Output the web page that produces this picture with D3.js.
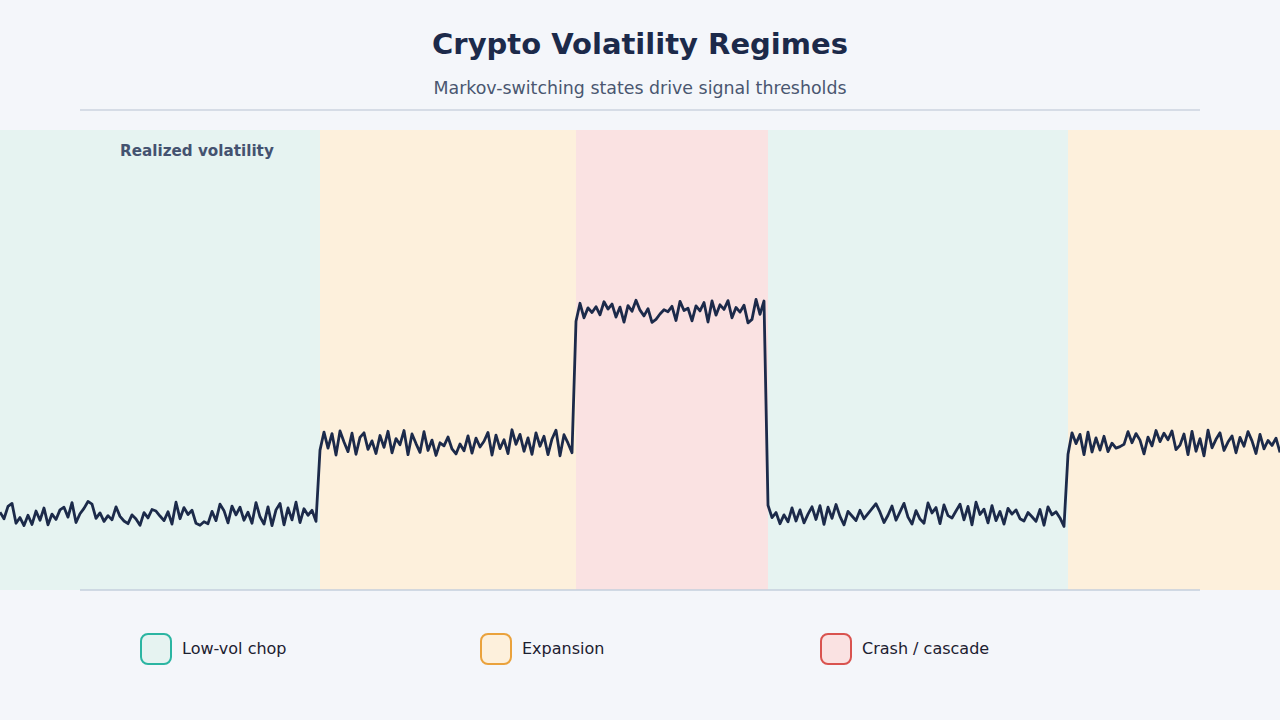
<!DOCTYPE html>
<html>
<head>
<meta charset="utf-8">
<script src="https://cdn.jsdelivr.net/npm/d3@7"></script>
<style>
  body { margin: 0; background: #f4f6fa; }
  svg { display: block; font-family: "DejaVu Sans", sans-serif; }
</style>
</head>
<body>
<svg width="1280" height="720"></svg>
<script>
// regime names and colours
var regimeNames = ["Low-vol chop", "Expansion", "Crash / cascade"];
var regimeFill = ["#e6f3f1", "#fdf0dc", "#fae2e2"];
var regimeStroke = ["#2bb5a2", "#eaa23c", "#d9534f"];

// each run of the series, in order: [regime, start index, end index]
var regimeRuns = [[0, 0, 80], [1, 80, 144], [2, 144, 192], [0, 192, 267], [1, 267, 320]];

// realized volatility readings (%), one per step
var lowRun1 = [
  20.3, 18.6, 21.8, 22.6, 17.4, 18.9, 16.8, 19.5, 17.1, 20.6,
  18.2, 21.4, 17.0, 19.8, 18.4, 20.9, 21.6, 19.0, 22.8, 17.6,
  19.9, 21.3, 23.1, 22.4, 18.7, 20.1, 17.9, 19.4, 18.3, 21.7,
  19.2, 18.0, 17.3, 19.6, 18.5, 16.9, 20.2, 18.8, 21.0, 20.6,
  19.3, 18.1, 20.4, 17.2, 22.9, 18.6, 21.5, 19.7, 20.8, 17.4,
  16.9, 17.8, 17.3, 20.5, 18.1, 22.4, 20.7, 17.5, 21.9, 19.6,
  21.6, 18.2, 20.3, 17.4, 22.8, 19.1, 17.2, 21.7, 16.8, 20.9,
  22.6, 17.0, 21.4, 18.3, 22.9, 17.6, 21.2, 19.5, 20.8, 17.9
];
var expRun1 = [
  36.5, 41.2, 37.0, 40.8, 35.2, 41.5, 38.6, 36.1, 40.9, 35.4,
  39.8, 41.0, 36.7, 38.9, 35.6, 40.3, 37.2, 41.4, 35.8, 39.5,
  37.9, 41.6, 35.3, 40.7, 38.2, 35.9, 41.3, 36.4, 39.1, 35.1,
  38.4, 37.6, 39.9, 36.8, 35.5, 38.1, 36.3, 40.2, 35.7, 39.6,
  37.3, 38.8, 41.1, 35.2, 40.4, 36.9, 39.2, 35.6, 41.8, 38.0,
  40.6, 36.2, 39.7, 35.4, 41.0, 37.5, 40.1, 35.3, 39.4, 41.7,
  35.0, 40.5, 38.3, 35.8
];
var crashRun = [
  70.1, 74.8, 71.0, 73.6, 72.4, 73.9, 71.8, 75.2, 73.3, 74.6,
  71.2, 73.8, 69.9, 74.2, 72.7, 75.6, 73.0, 71.5, 73.4, 69.8,
  70.6, 72.0, 73.1, 72.6, 74.0, 70.3, 75.3, 72.9, 73.5, 70.2,
  74.1, 72.8, 75.0, 69.9, 75.4, 71.7, 74.4, 73.2, 75.5, 71.0,
  73.7, 72.5, 74.3, 69.7, 70.6, 75.8, 71.9, 75.4
];
var lowRun2 = [
  22.1, 18.9, 20.2, 17.3, 19.6, 17.8, 21.4, 18.0, 20.9, 17.5,
  19.8, 21.7, 18.4, 22.0, 17.1, 21.6, 18.7, 22.3, 19.2, 17.0,
  20.5, 19.3, 18.1, 20.8, 18.6, 19.9, 21.2, 22.5, 20.3, 17.6,
  19.5, 21.9, 18.2, 20.4, 22.6, 19.0, 17.2, 20.7, 18.5, 17.4,
  22.7, 20.1, 21.5, 17.3, 22.2, 19.4, 18.8, 20.6, 22.4, 18.3,
  21.8, 17.0, 22.9, 19.7, 21.1, 17.5, 22.0, 18.1, 20.5, 17.2,
  21.3, 19.8, 20.9, 18.6, 18.0, 20.2, 19.1, 17.9, 21.0, 16.9,
  21.7, 19.6, 20.4, 18.8, 16.6
];
var expRun2 = [
  35.4, 41.0, 38.2, 40.6, 35.3, 41.2, 36.0, 39.7, 36.5, 40.1,
  36.1, 38.3, 37.0, 37.4, 38.0, 41.3, 38.4, 40.8, 39.1, 35.5,
  39.9, 37.6, 41.6, 38.7, 40.9, 39.2, 41.5, 36.6, 37.8, 40.7,
  35.3, 41.4, 36.2, 39.5, 35.0, 41.7, 37.1, 39.3, 41.0, 36.4,
  38.6, 40.2, 35.8, 39.8, 37.5, 41.3, 38.9, 35.6, 40.6, 36.8,
  39.0, 37.7, 39.6, 35.9
];
var vol = [].concat(lowRun1, expRun1, crashRun, lowRun2, expRun2);

var svg = d3.select("svg");
var W = 1280;
var plot = { top: 130, bottom: 590, left: 80, right: 1200 };

var x = d3.scaleLinear().domain([0, vol.length - 1]).range([0, W]);
var y = d3.scaleLinear().domain([0, 120]).range([plot.bottom, plot.top]);

// title block
svg.append("text")
   .attr("x", W / 2).attr("y", 54)
   .attr("text-anchor", "middle")
   .attr("font-size", 29).attr("font-weight", "bold")
   .attr("fill", "#1c2a4a")
   .text("Crypto Volatility Regimes");

svg.append("text")
   .attr("x", W / 2).attr("y", 94)
   .attr("text-anchor", "middle")
   .attr("font-size", 17.4)
   .attr("fill", "#4a5670")
   .text("Markov-switching states drive signal thresholds");

svg.append("line")
   .attr("x1", plot.left).attr("x2", plot.right)
   .attr("y1", 110).attr("y2", 110)
   .attr("stroke", "#d6dce6").attr("stroke-width", 2);

// regime bands
svg.append("g").selectAll("rect")
   .data(regimeRuns)
   .enter().append("rect")
   .attr("x", function(d) { return x(d[1]); })
   .attr("width", function(d) { return x(d[2]) - x(d[1]); })
   .attr("y", plot.top)
   .attr("height", plot.bottom - plot.top)
   .attr("fill", function(d) { return regimeFill[d[0]]; });

svg.append("line")
   .attr("x1", plot.left).attr("x2", plot.right)
   .attr("y1", plot.bottom).attr("y2", plot.bottom)
   .attr("stroke", "#c5cfdc").attr("stroke-width", 1.5);

svg.append("text")
   .attr("x", 120).attr("y", 156)
   .attr("font-size", 15.2).attr("font-weight", "bold")
   .attr("fill", "#445270")
   .text("Realized volatility");

// the volatility line
var line = d3.line()
   .x(function(d, i) { return x(i); })
   .y(function(d) { return y(d); });

svg.append("path")
   .datum(vol)
   .attr("d", line)
   .attr("fill", "none")
   .attr("stroke", "#1c2a4a")
   .attr("stroke-width", 2.8)
   .attr("stroke-linejoin", "round");

// legend
var legend = svg.append("g").selectAll("g")
   .data(regimeNames)
   .enter().append("g")
   .attr("transform", function(d, i) { return "translate(" + (141 + i * 340) + ",634)"; });

legend.append("rect")
   .attr("width", 30).attr("height", 30)
   .attr("rx", 7)
   .attr("fill", function(d, i) { return regimeFill[i]; })
   .attr("stroke", function(d, i) { return regimeStroke[i]; })
   .attr("stroke-width", 2);

legend.append("text")
   .attr("x", 41).attr("y", 20)
   .attr("font-size", 16)
   .attr("fill", "#1c2030")
   .text(function(d) { return d; });
</script>
</body>
</html>
